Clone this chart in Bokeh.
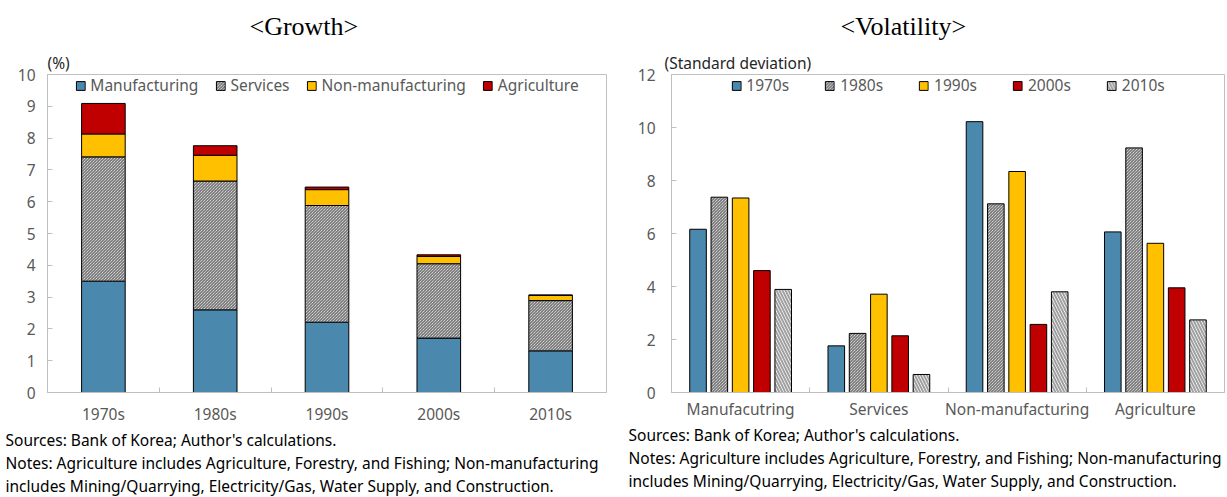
from bokeh.plotting import figure
from bokeh.models import FixedTicker, Title, ColumnDataSource
from bokeh.transform import dodge
from bokeh.layouts import row
from bokeh.embed import file_html
from bokeh.resources import INLINE

# ---------------- data ----------------
decades = ["1970s", "1980s", "1990s", "2000s", "2010s"]
manufacturing = [3.50, 2.60, 2.21, 1.71, 1.31]
services = [3.91, 4.05, 3.67, 2.34, 1.58]
non_manufacturing = [0.72, 0.81, 0.50, 0.23, 0.17]
agriculture = [0.96, 0.30, 0.08, 0.05, 0.00]
growth_series = ["Manufacturing", "Services", "Non-manufacturing", "Agriculture"]

sectors = ["Manufacutring", "Services", "Non-manufacturing", "Agriculture"]
vol_1970s = [6.16, 1.76, 10.22, 6.06]
vol_1980s = [7.37, 2.23, 7.12, 9.23]
vol_1990s = [7.34, 3.71, 8.34, 5.63]
vol_2000s = [4.60, 2.14, 2.57, 3.95]
vol_2010s = [3.89, 0.68, 3.80, 2.74]

growth_ticks = list(range(0, 11))
vol_ticks = list(range(0, 13, 2))

notes_text = ("Sources: Bank of Korea; Author's calculations.\n"
              "Notes: Agriculture includes Agriculture, Forestry, and Fishing; Non-manufacturing\n"
              "includes Mining/Quarrying, Electricity/Gas, Water Supply, and Construction.")

# ---------------- style ----------------
FONT = "Noto Sans"
SERIF = "Liberation Serif"
GRAY = "#595959"
AXIS = "#BFBFBF"
BLUE = "#4A89AD"
YELLOW = "#FFC000"
RED = "#C00000"
FS = "15.5px"


def style_axes(p, yticks, xcenters, xlabels, xstandoff, ystandoff):
    p.xgrid.visible = False
    p.ygrid.visible = False
    p.outline_line_color = AXIS
    p.outline_line_width = 1
    p.background_fill_color = "white"
    p.border_fill_color = "white"
    for ax in (p.xaxis[0], p.yaxis[0]):
        ax.axis_line_color = AXIS
        ax.major_label_text_color = GRAY
        ax.major_label_text_font = FONT
        ax.major_label_text_font_size = FS
        ax.axis_label_standoff = 0
    y = p.yaxis[0]
    y.ticker = FixedTicker(ticks=yticks, minor_ticks=[])
    y.major_tick_in = 5
    y.major_tick_out = 0
    y.major_tick_line_color = AXIS
    y.minor_tick_line_color = None
    y.major_label_standoff = ystandoff
    x = p.xaxis[0]
    x.ticker = FixedTicker(ticks=xcenters, minor_ticks=list(range(1, len(xcenters))))
    x.major_tick_line_color = None
    x.major_tick_in = 0
    x.major_tick_out = 0
    x.minor_tick_in = 5
    x.minor_tick_out = 0
    x.minor_tick_line_color = AXIS
    x.major_label_overrides = {c: l for c, l in zip(xcenters, xlabels)}
    x.major_label_standoff = xstandoff


def style_legend(p, spacing):
    lg = p.legend[0]
    lg.orientation = "horizontal"
    lg.location = "top_center"
    lg.border_line_color = None
    lg.background_fill_alpha = 0
    lg.label_text_font = FONT
    lg.label_text_font_size = FS
    lg.label_text_color = GRAY
    lg.glyph_width = 11
    lg.glyph_height = 11
    lg.label_standoff = 5
    lg.spacing = spacing
    lg.margin = 0
    lg.padding = 5
    lg.label_height = 14


def add_titles(p, main, main_offset, unit, unit_offset):
    p.title = Title(text=main, align="left", offset=main_offset, text_font=SERIF,
                    text_font_size="26px", text_font_style="normal", text_color="black",
                    standoff=18)
    p.add_layout(Title(text=unit, align="left", offset=unit_offset, text_font=FONT,
                       text_font_size=FS, text_font_style="normal",
                       text_color="#262626", standoff=1), "above")


def add_notes(p, offset):
    p.add_layout(Title(text=notes_text, align="left", offset=offset, text_font=FONT,
                       text_font_size=FS, text_font_style="normal", text_color="black",
                       text_line_height=1.05, standoff=0), "below")


# ---------------- left: Growth ----------------
p1 = figure(width=614, height=497, x_range=(0, len(decades)), y_range=(0, 10),
            output_backend="svg", toolbar_location=None,
            min_border_left=47, min_border_right=8, min_border_top=72, min_border_bottom=101)
xc1 = [i + 0.5 for i in range(len(decades))]
src1 = ColumnDataSource(dict(x=xc1, mfg=manufacturing, svc=services,
                             nonmfg=non_manufacturing, agr=agriculture))
p1.vbar_stack(["mfg", "svc", "nonmfg", "agr"], x="x", width=0.39, source=src1,
              fill_color=[BLUE, "white", YELLOW, RED], line_color="black", line_width=1,
              hatch_pattern=[" ", "\\", " ", " "], hatch_color="#555555",
              hatch_scale=3, hatch_weight=1,
              legend_label=growth_series)
style_axes(p1, growth_ticks, xc1, decades, 10, 12)
style_legend(p1, 16)
add_titles(p1, "<Growth>", 202, "(%)", 0)
add_notes(p1, -42)

# ---------------- right: Volatility ----------------
p2 = figure(width=611, height=497, x_range=(0, len(sectors)), y_range=(0, 12),
            output_backend="svg", toolbar_location=None,
            min_border_left=57, min_border_right=1, min_border_top=72, min_border_bottom=97)
xc2 = [i + 0.5 for i in range(len(sectors))]
src2 = ColumnDataSource(dict(x=xc2, v70=vol_1970s, v80=vol_1980s, v90=vol_1990s,
                             v00=vol_2000s, v10=vol_2010s))
series2 = [
    ("v70", "1970s", BLUE, " ", "black", 1, 1),
    ("v80", "1980s", "white", "\\", "#555555", 3, 1),
    ("v90", "1990s", YELLOW, " ", "black", 1, 1),
    ("v00", "2000s", RED, " ", "black", 1, 1),
    ("v10", "2010s", "white", "\\", "#A0A0A0", 6, 2),
]
for i, (col, lab, fc, hp, hc, hs, hw) in enumerate(series2):
    p2.vbar(x=dodge("x", (i - 2) * 0.154, range=p2.x_range), top=col, width=0.12,
            source=src2, fill_color=fc, line_color="black", line_width=1,
            hatch_pattern=hp, hatch_color=hc, hatch_scale=hs, hatch_weight=hw,
            legend_label=lab)
style_axes(p2, vol_ticks, xc2, sectors, 5, 16)
style_legend(p2, 35)
add_titles(p2, "<Volatility>", 169, "(Standard deviation)", -7)
add_notes(p2, -43)

layout = row(p1, p2)
open("out.html", "w").write(file_html(layout, INLINE))
